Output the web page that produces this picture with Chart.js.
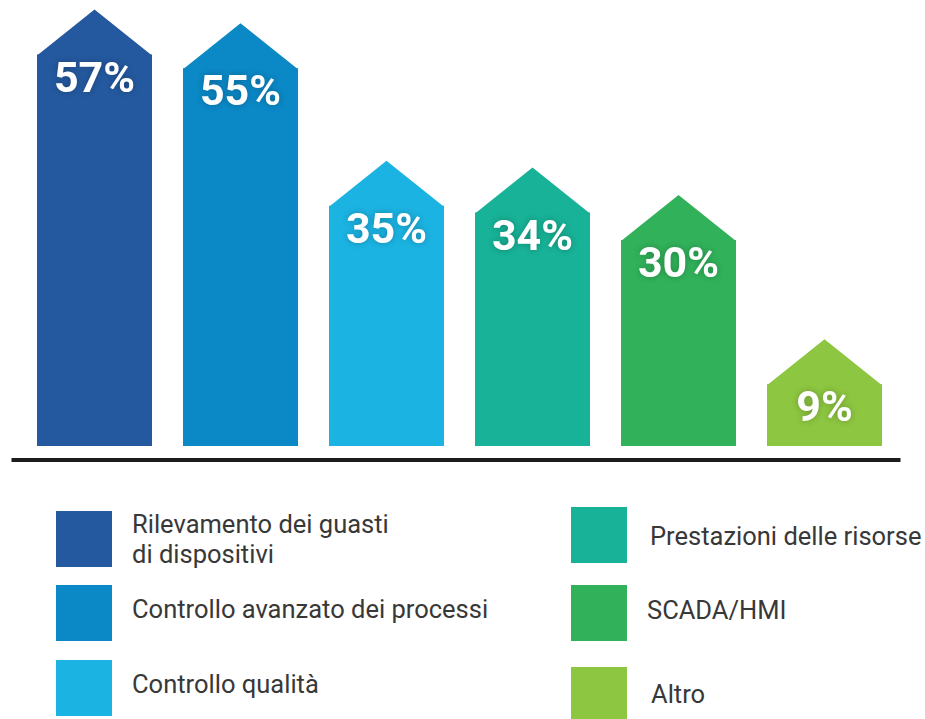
<!DOCTYPE html>
<html>
<head>
<meta charset="utf-8">
<script src="https://cdn.jsdelivr.net/npm/chart.js@4"></script>
<style>
  html, body { margin: 0; padding: 0; background: #fff; }
  #wrap { position: relative; width: 925px; height: 719px; overflow: hidden; }
  #chart { position: absolute; left: 0; top: 0; }
  .sw { position: absolute; width: 56px; height: 56px; }
  .lbl { position: absolute; font-family: Roboto, sans-serif; font-size: 25.5px; line-height: 30px; color: #383838; white-space: nowrap; }
</style>
</head>
<body>
<div id="wrap">
  <canvas id="chart" width="925" height="480"></canvas>
  <div id="legend"></div>
</div>
<script>
// data
const categories = [
  ['Rilevamento dei guasti', 'di dispositivi'],
  'Controllo avanzato dei processi',
  'Controllo qualità',
  'Prestazioni delle risorse',
  'SCADA/HMI',
  'Altro'
];
const values = [57, 55, 35, 34, 30, 9];
const colors = ['#24599F', '#0B88C6', '#1BB3E2', '#17B297', '#31B15A', '#8DC641'];

// legend layout (square pos, text pos)
const legendPos = [
  { sx: 56, sy: 511, tx: 132, ty: 509 },
  { sx: 56, sy: 585, tx: 132, ty: 594 },
  { sx: 56, sy: 660, tx: 132, ty: 669 },
  { sx: 571, sy: 507, tx: 650, ty: 521 },
  { sx: 571, sy: 585, tx: 647, ty: 595 },
  { sx: 571, sy: 667, tx: 651, ty: 679 }
];

const ROOF = 45;

const housePlugin = {
  id: 'house',
  afterDatasetsDraw(chart) {
    const ctx = chart.ctx;
    const meta = chart.getDatasetMeta(0);
    meta.data.forEach((bar, i) => {
      const { x, y, width } = bar.getProps(['x', 'y', 'width'], true);
      const left = x - width / 2;
      ctx.save();
      ctx.fillStyle = colors[i];
      ctx.beginPath();
      ctx.moveTo(left, y + 1);
      ctx.lineTo(x, y - ROOF);
      ctx.lineTo(left + width, y + 1);
      ctx.closePath();
      ctx.fill();
      ctx.restore();

      // value label
      ctx.save();
      ctx.font = 'bold 43px Roboto, sans-serif';
      ctx.fillStyle = '#fff';
      ctx.textAlign = 'center';
      ctx.textBaseline = 'alphabetic';
      ctx.shadowColor = 'rgba(0,0,0,0.25)';
      ctx.shadowBlur = 6;
      ctx.fillText(values[i] + '%', x, y + 37);
      ctx.restore();
    });

    // base line
    const area = chart.chartArea;
    ctx.save();
    ctx.strokeStyle = '#1c1c1c';
    ctx.lineWidth = 4;
    ctx.beginPath();
    ctx.moveTo(area.left - 10, area.bottom + 14);
    ctx.lineTo(area.right + 3, area.bottom + 14);
    ctx.stroke();
    ctx.restore();
  }
};

new Chart(document.getElementById('chart'), {
  type: 'bar',
  data: {
    labels: categories,
    datasets: [{
      data: values,
      backgroundColor: colors,
      borderWidth: 0,
      barPercentage: 1,
      categoryPercentage: 115 / 146
    }]
  },
  options: {
    responsive: false,
    animation: false,
    layout: { padding: { top: 34, bottom: 34, left: 21.5, right: 27.5 } },
    plugins: { legend: { display: false }, tooltip: { enabled: false } },
    scales: {
      x: { display: false },
      y: { display: false, min: 0, max: 60 }
    }
  },
  plugins: [housePlugin]
});

// html legend built from the same arrays
const legend = document.getElementById('legend');
categories.forEach((cat, i) => {
  const p = legendPos[i];
  const sw = document.createElement('div');
  sw.className = 'sw';
  sw.style.left = p.sx + 'px';
  sw.style.top = p.sy + 'px';
  sw.style.background = colors[i];
  legend.appendChild(sw);

  const lbl = document.createElement('div');
  lbl.className = 'lbl';
  lbl.style.left = p.tx + 'px';
  lbl.style.top = p.ty + 'px';
  lbl.innerHTML = (Array.isArray(cat) ? cat : [cat]).join('<br>');
  legend.appendChild(lbl);
});
</script>
</body>
</html>
